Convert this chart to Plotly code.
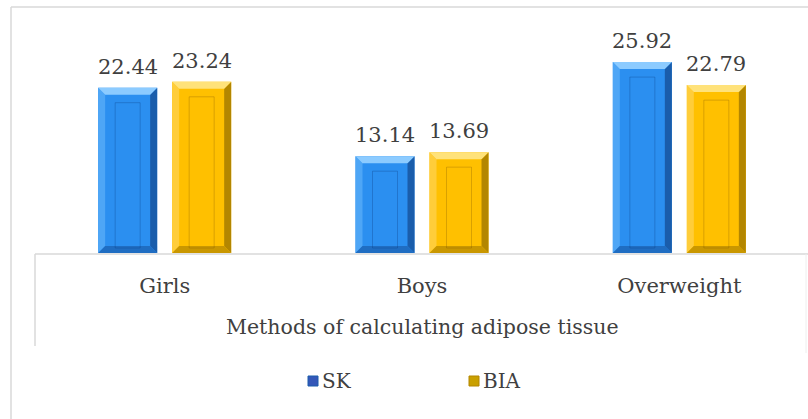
import plotly.graph_objects as go

# ---- data ----
categories = ["Girls", "Boys", "Overweight"]
sk_values = [22.44, 13.14, 25.92]
bia_values = [23.24, 13.69, 22.79]
series_names = ["SK", "BIA"]
axis_title = "Methods of calculating adipose tissue"

# ---- geometry / style ----
W, H = 808, 419
ML, MR, MT, MB = 36, 0, 32, 166
PW, PH = W - ML - MR, H - MT - MB
Y_MAX = 30.0
CAT_PX = PW / len(categories)          # pixels per category slot
BAR_W = 59 / CAT_PX                    # bar width in category units
OFFSETS = [-66.5 / CAT_PX, 7.5 / CAT_PX]
FONT = "DejaVu Serif"
TEXT_COLOR = "#404040"
GRID_GREY = "#d9d9d9"

palettes = [
    dict(face="#2b8ff0", top="#8ccbff", left="#4ea6f6", right="#1a5dab", bottom="#1f6dc2",
         inner="rgba(10,60,130,0.30)", swatch="#3457b8"),
    dict(face="#ffc000", top="#ffe27a", left="#ffcd3a", right="#b38600", bottom="#c99700",
         inner="rgba(130,90,0,0.30)", swatch="#c9a000"),
]

x_idx = list(range(len(categories)))


def px2x(px):
    return (px - ML) / PW


def px2y(py):
    return (MT + PH - py) / PH


fig = go.Figure()

shapes = []
annotations = []
bx = 7 / CAT_PX                 # bevel width in category units
by = 7 * Y_MAX / PH             # bevel height in value units
ix = 17 / CAT_PX
iy_top = 15 * Y_MAX / PH
iy_bot = 5 * Y_MAX / PH


def poly(pts, color):
    path = "M " + " L ".join(f"{a},{b}" for a, b in pts) + " Z"
    return dict(type="path", xref="x", yref="y", path=path,
                fillcolor=color, line=dict(width=0), layer="above")


for s, (name, vals) in enumerate(zip(series_names, [sk_values, bia_values])):
    pal = palettes[s]
    fig.add_trace(go.Bar(
        x=x_idx, y=vals, name=name,
        offset=OFFSETS[s], width=BAR_W,
        marker=dict(color=pal["face"], line=dict(width=0)),
        showlegend=False, hoverinfo="y",
    ))
    for i, v in zip(x_idx, vals):
        x0 = i + OFFSETS[s]
        x1 = x0 + BAR_W
        # bevelled edges of each bar
        shapes.append(poly([(x0, 0), (x0, v), (x0 + bx, v - by), (x0 + bx, by)], pal["left"]))
        shapes.append(poly([(x1, 0), (x1, v), (x1 - bx, v - by), (x1 - bx, by)], pal["right"]))
        shapes.append(poly([(x0, 0), (x1, 0), (x1 - bx, by), (x0 + bx, by)], pal["bottom"]))
        shapes.append(poly([(x0, v), (x1, v), (x1 - bx, v - by), (x0 + bx, v - by)], pal["top"]))
        shapes.append(dict(type="rect", xref="x", yref="y",
                           x0=x0 + ix, x1=x1 - ix, y0=iy_bot, y1=v - iy_top,
                           line=dict(color=pal["inner"], width=1), layer="above"))
        # value label above the bar
        annotations.append(dict(xref="x", yref="y", x=x0 + BAR_W / 2, y=v,
                                text=f"{v:.2f}", showarrow=False,
                                xanchor="center", yanchor="bottom", yshift=7,
                                font=dict(family=FONT, size=21, color=TEXT_COLOR)))

# outer chart border (top and left)
shapes.append(dict(type="line", xref="paper", yref="paper",
                   x0=px2x(11), x1=px2x(808), y0=px2y(7), y1=px2y(7),
                   line=dict(color=GRID_GREY, width=1.5)))
shapes.append(dict(type="line", xref="paper", yref="paper",
                   x0=px2x(11), x1=px2x(11), y0=px2y(7), y1=px2y(419),
                   line=dict(color=GRID_GREY, width=1.5)))
# category axis box
shapes.append(dict(type="line", xref="paper", yref="paper",
                   x0=px2x(35), x1=px2x(808), y0=px2y(254), y1=px2y(254),
                   line=dict(color=GRID_GREY, width=1.5)))
shapes.append(dict(type="line", xref="paper", yref="paper",
                   x0=px2x(35), x1=px2x(35), y0=px2y(254), y1=px2y(346),
                   line=dict(color=GRID_GREY, width=1.5)))
shapes.append(dict(type="line", xref="paper", yref="paper",
                   x0=px2x(806), x1=px2x(806), y0=px2y(254), y1=px2y(353),
                   line=dict(color="#eeeeee", width=1)))

annotations.append(dict(xref="paper", yref="paper", x=px2x(422), y=px2y(327),
                        text=axis_title, showarrow=False, xanchor="center", yanchor="middle",
                        font=dict(family=FONT, size=20.5, color=TEXT_COLOR)))

# legend: swatch + label
legend_x = [308, 469]
legend_y = 381
for s, name in enumerate(series_names):
    sx = legend_x[s]
    shapes.append(dict(type="rect", xref="paper", yref="paper",
                       x0=px2x(sx), x1=px2x(sx + 10), y0=px2y(legend_y - 5), y1=px2y(legend_y + 5),
                       fillcolor=palettes[s]["swatch"], line=dict(color=palettes[s]["right"], width=1)))
    annotations.append(dict(xref="paper", yref="paper", x=px2x(sx + 12), y=px2y(legend_y),
                            text=name, showarrow=False, xanchor="left", yanchor="middle",
                            font=dict(family=FONT, size=20, color=TEXT_COLOR)))

fig.update_layout(
    width=W, height=H,
    margin=dict(l=ML, r=MR, t=MT, b=MB, pad=0),
    paper_bgcolor="white", plot_bgcolor="white",
    barmode="overlay",
    showlegend=False,
    xaxis=dict(range=[-0.5, len(categories) - 0.5], tickmode="array",
               tickvals=x_idx, ticktext=categories,
               ticks="outside", ticklen=14, tickcolor="rgba(0,0,0,0)",
               tickfont=dict(family=FONT, size=21, color=TEXT_COLOR),
               showgrid=False, zeroline=False, showline=False, fixedrange=True),
    yaxis=dict(range=[0, Y_MAX], visible=False, fixedrange=True),
    shapes=shapes,
    annotations=annotations,
)

fig.write_html("out.html")
